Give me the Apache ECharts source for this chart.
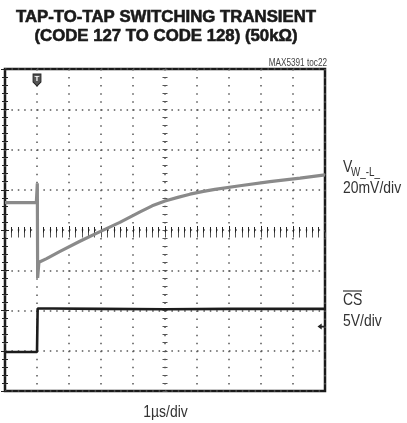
<!DOCTYPE html>
<html><head><meta charset="utf-8">
<script src="https://cdn.jsdelivr.net/npm/echarts@6/dist/echarts.min.js"></script>
<style>html,body{margin:0;padding:0;background:#fff}#c{width:407px;height:423px}</style>
</head><body><div id="c"></div>
<script>
// Time in divisions (1 µs/div), values in vertical divisions (center = 0)
const wiperTime = [0, 0.5, 0.98, 1.0, 1.01, 1.02, 1.06, 1.3, 1.72, 2.34, 2.97, 3.59, 4.22, 4.6, 5.0, 5.4, 5.78, 6.2, 6.56, 7.34, 8.28, 9.22, 10];
const wiperVal  = [0.68, 0.68, 0.68, 0.68, 1.16, -1.19, -0.80, -0.71, -0.53, -0.28, -0.04, 0.19, 0.45, 0.60, 0.72, 0.81, 0.89, 0.96, 1.01, 1.10, 1.20, 1.29, 1.37];
const csTime = [0, 0.5, 1.0, 1.02, 1.5, 3, 5, 7, 9, 10];
const csVal  = [-3.03, -3.03, -3.03, -1.95, -1.95, -1.96, -1.97, -1.96, -1.96, -1.96];
const triggerPos = [1.0, 4];
const groundPos = [10, -2.40];
const xRange = [0, 10];
const yRange = [-4, 4];
const titleLines = ['TAP-TO-TAP SWITCHING TRANSIENT', '(CODE 127 TO CODE 128) (50k\u03A9)'];
const noteText = 'MAX5391 toc22';
const xLabel = '1\u00B5s/div';
const ch1Name = ['V', 'W_-L_'];
const ch1Scale = '20mV/div';
const ch2Name = 'CS';
const ch2Scale = '5V/div';

const wiperData = wiperTime.map((t, i) => [t, wiperVal[i]]);
const csData = csTime.map((t, i) => [t, csVal[i]]);

const tickCol = '#222';
const dotCol = '#555';
const sans = '"Liberation Sans", Arial, sans-serif';
const NX = 0.82;

function baseAxis(extra) {
  return Object.assign({
    type: 'value', axisLabel: {show: false}, axisLine: {show: false},
    splitLine: {show: false}
  }, extra);
}
function label(text, x, y, size, align, sx, fill) {
  return {type: 'text', x: x, y: y, scaleX: sx, style: {text: text, x: 0, y: 0, textAlign: align, textVerticalAlign: 'middle',
    font: size + 'px ' + sans, fill: fill || '#333'}};
}

const chart = echarts.init(document.getElementById('c'), null, {renderer: 'canvas'});
chart.setOption({
  animation: false,
  backgroundColor: '#fff',
  grid: {left: 5, top: 69, right: 82, bottom: 32, show: true, borderColor: '#1a1a1a', borderWidth: 2.5, containLabel: false},
  xAxis: [
    baseAxis({min: xRange[0], max: xRange[1], interval: 1, position: 'bottom',
      axisTick: {show: true, inside: true, length: 4, lineStyle: {color: tickCol}},
      minorTick: {show: true, splitNumber: 5, length: 3, lineStyle: {color: tickCol}},
      splitLine: {show: true, lineStyle: {color: dotCol, width: 1.5, type: [1.5, 6.55]}}}),
    baseAxis({min: xRange[0], max: xRange[1], interval: 1, position: 'top',
      axisTick: {show: true, inside: true, length: 4, lineStyle: {color: tickCol}},
      minorTick: {show: true, splitNumber: 5, length: 3, lineStyle: {color: tickCol}}}),
    baseAxis({min: xRange[0], max: xRange[1], interval: 1, position: 'bottom', offset: -163.5,
      axisTick: {show: true, inside: false, length: 5, lineStyle: {color: '#555'}},
      minorTick: {show: true, splitNumber: 5, length: 5, lineStyle: {color: '#555'}}})
  ],
  yAxis: [
    baseAxis({min: yRange[0], max: yRange[1], interval: 1, position: 'left',
      axisTick: {show: true, inside: true, length: 4, lineStyle: {color: tickCol}},
      minorTick: {show: true, splitNumber: 5, length: 3, lineStyle: {color: tickCol}},
      splitLine: {show: true, lineStyle: {color: dotCol, width: 1.5, type: [1.5, 4.9]}}}),
    baseAxis({min: yRange[0], max: yRange[1], interval: 1, position: 'right',
      axisTick: {show: true, inside: true, length: 4, lineStyle: {color: tickCol}},
      minorTick: {show: true, splitNumber: 5, length: 3, lineStyle: {color: tickCol}}}),
    baseAxis({min: yRange[0], max: yRange[1], interval: 1, position: 'left', offset: -162.5,
      axisTick: {show: true, inside: false, length: 5, lineStyle: {color: '#555'}},
      minorTick: {show: true, splitNumber: 5, length: 5, lineStyle: {color: '#555'}}})
  ],
  series: [
    {type: 'line', data: wiperData, showSymbol: false, smooth: false,
     lineStyle: {color: '#8a8a8a', width: 3.2}, z: 3},
    {type: 'line', data: csData, showSymbol: false,
     lineStyle: {color: '#1c1c1c', width: 2.6}, z: 4,
     markPoint: {
       silent: true, animation: false,
       data: [
         {coord: triggerPos, symbol: 'path://M0,0 L10,0 L10,10 L5,15 L0,10 Z', symbolSize: [8, 12], symbolOffset: [0, 11],
          itemStyle: {color: '#555', borderColor: '#222', borderWidth: 1},
          label: {show: true, formatter: 'T', color: '#fff', fontSize: 8, fontWeight: 'bold', position: 'inside', offset: [0, -1]}},
         {coord: groundPos, symbol: 'path://M0,5 L6,0 L6,3.5 L10,3.5 L10,6.5 L6,6.5 L6,10 Z', symbolSize: [7, 6], symbolOffset: [-4, 0],
          itemStyle: {color: '#222'}, label: {show: false}}
       ]
     }}
  ],
  graphic: [
    {type: 'text', x: 166, y: 17, style: {text: titleLines[0], x: 0, y: 0, textAlign: 'center', textVerticalAlign: 'middle',
      font: 'bold 16.8px ' + sans, fill: '#1a1a1a', stroke: '#1a1a1a', lineWidth: 0.6}},
    {type: 'text', x: 166, y: 36, style: {text: titleLines[1], x: 0, y: 0, textAlign: 'center', textVerticalAlign: 'middle',
      font: 'bold 16.8px ' + sans, fill: '#1a1a1a', stroke: '#1a1a1a', lineWidth: 0.6}},
    label(noteText, 327, 63, 10, 'right', NX, '#444'),
    label(ch1Name[0], 343, 167.5, 17, 'left', NX),
    label(ch1Name[1], 351, 173, 12, 'left', NX),
    label(ch1Scale, 343, 188.5, 17, 'left', NX),
    label(ch2Name, 343, 300, 17, 'left', NX),
    {type: 'line', shape: {x1: 343, y1: 291, x2: 362, y2: 291}, style: {stroke: '#333', lineWidth: 1.2}},
    label(ch2Scale, 343, 321.5, 17, 'left', NX),
    label(xLabel, 165.5, 412.5, 17, 'center', NX)
  ]
});
</script>
</body></html>
